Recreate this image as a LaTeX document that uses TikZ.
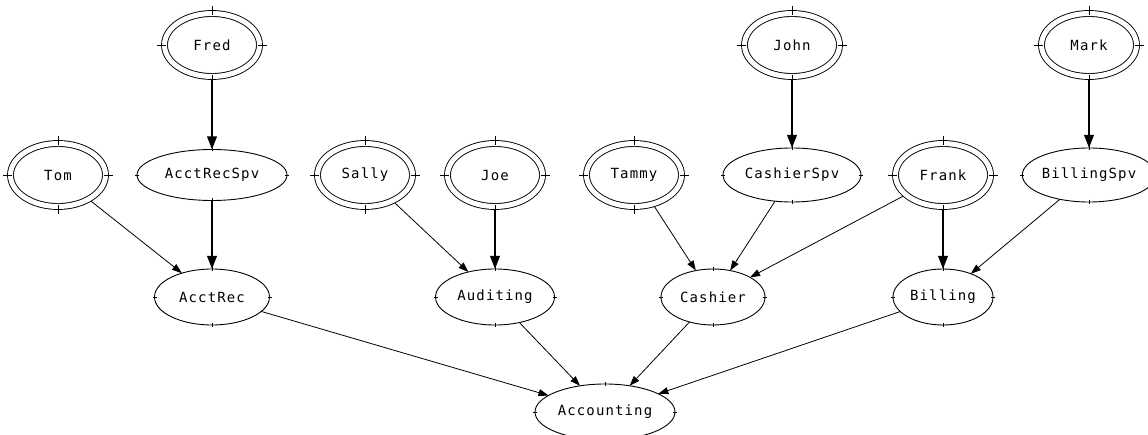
\documentclass[tikz,border=0pt]{standalone}
\usepackage{fontspec}
\newfontfamily\labelfont[LetterSpace=8]{DejaVu Sans Mono}
\usetikzlibrary{shapes.geometric,arrows.meta}

\tikzset{
  lbl/.style={font=\labelfont\fontsize{14}{16}\selectfont},
  person/.style={ellipse, draw, double, double distance=5pt, line width=0.9pt,
    minimum width=95pt, minimum height=63pt, inner sep=0pt, outer sep=3.4pt, lbl},
  unit/.style={ellipse, draw, line width=0.9pt, inner sep=0pt, outer sep=0pt, lbl},
  link/.style={-{Triangle[length=10pt,width=7pt]}, line width=0.8pt},
  boss/.style={-{Triangle[length=13pt,width=9.5pt]}, line width=2pt},
  tick/.style={line width=0.8pt}
}

\begin{document}
\begin{tikzpicture}[x=1pt,y=-1pt]
\useasboundingbox (0,0) rectangle (1148,435);

% people (double ellipses)
\node[person] (fred)  at (212,45)  {Fred};
\node[person] (john)  at (792,45)  {John};
\node[person] (mark)  at (1089,45) {Mark};
\node[person] (tom)   at (58,175)  {Tom};
\node[person] (sally) at (365,175) {Sally};
\node[person] (joe)   at (495,175) {Joe};
\node[person] (tammy) at (634,175) {Tammy};
\node[person] (frank) at (943,175) {Frank};

% supervisors
\node[unit, minimum width=150pt, minimum height=51pt] (acctrecspv) at (212,175)  {AcctRecSpv};
\node[unit, minimum width=138pt, minimum height=54pt] (cashierspv) at (792,175)  {CashierSpv};
\node[unit, minimum width=124pt, minimum height=54pt] (billingspv) at (1089,175) {BillingSpv};

% departments
\node[unit, minimum width=115pt, minimum height=56pt] (acctrec)  at (212,297) {AcctRec};
\node[unit, minimum width=119pt, minimum height=56pt] (auditing) at (495,297) {Auditing};
\node[unit, minimum width=104pt, minimum height=56pt] (cashier)  at (713,297) {Cashier};
\node[unit, minimum width=100pt, minimum height=56pt] (billing)  at (943,297) {Billing};
\node[unit, minimum width=140pt, minimum height=56pt] (accounting) at (605,412) {Accounting};

% small marks at the four compass points of every ellipse
\foreach \n in {fred,john,mark,tom,sally,joe,tammy,frank}{
  \draw[tick] ([yshift=4pt]\n.north) -- ([yshift=-5pt]\n.north);
  \draw[tick] ([yshift=5pt]\n.south) -- ([yshift=-4pt]\n.south);
  \draw[tick] ([xshift=-4pt]\n.west) -- ([xshift=5pt]\n.west);
  \draw[tick] ([xshift=-5pt]\n.east) -- ([xshift=4pt]\n.east);
}
\foreach \n in {acctrecspv,cashierspv,billingspv,acctrec,auditing,cashier,billing,accounting}{
  \draw[tick] ([yshift=2pt]\n.north) -- ([yshift=-2pt]\n.north);
  \draw[tick] ([yshift=2pt]\n.south) -- ([yshift=-2pt]\n.south);
  \draw[tick] ([xshift=-2pt]\n.west) -- ([xshift=2pt]\n.west);
  \draw[tick] ([xshift=-2pt]\n.east) -- ([xshift=2pt]\n.east);
}

% reporting lines
\draw[boss] (fred) -- (acctrecspv);
\draw[boss] (acctrecspv) -- (acctrec);
\draw[link] (tom) -- (acctrec);
\draw[link] (sally) -- (auditing);
\draw[boss] (joe) -- (auditing);
\draw[boss] (john) -- (cashierspv);
\draw[link] (tammy) -- (cashier);
\draw[link] (cashierspv) -- (cashier);
\draw[link] (frank) -- (cashier);
\draw[boss] (frank) -- (billing);
\draw[boss] (mark) -- (billingspv);
\draw[link] (billingspv) -- (billing);

\draw[link] (acctrec) -- (accounting);
\draw[link] (auditing) -- (accounting);
\draw[link] (cashier) -- (accounting);
\draw[link] (billing) -- (accounting);
\end{tikzpicture}
\end{document}
